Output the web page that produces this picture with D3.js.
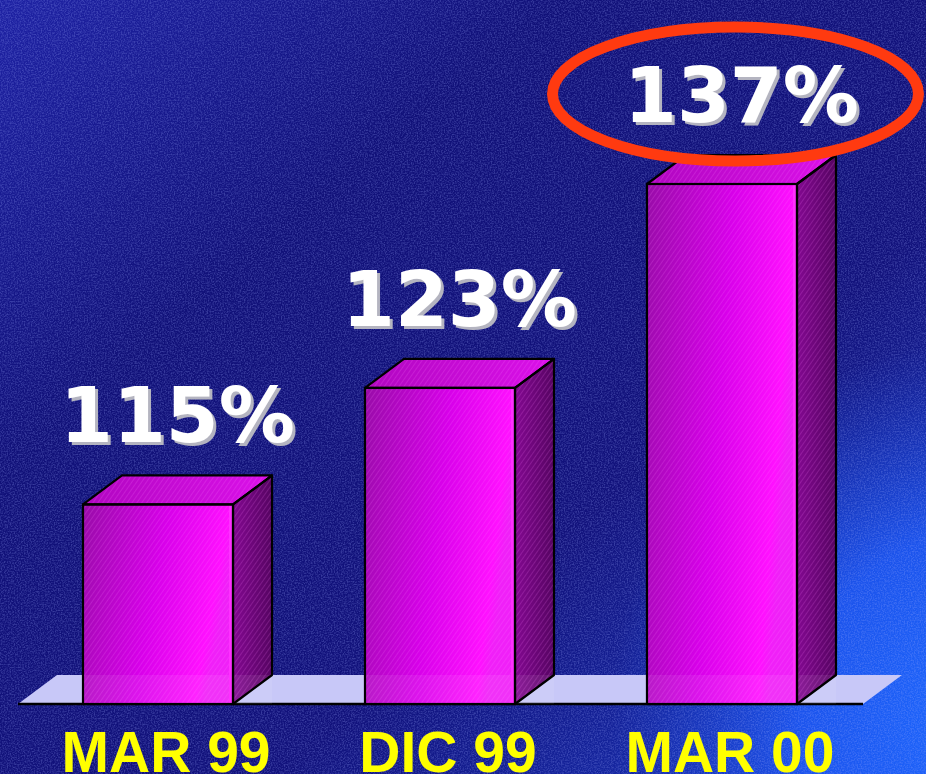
<!DOCTYPE html>
<html>
<head>
<meta charset="utf-8">
<script src="https://cdn.jsdelivr.net/npm/d3@7"></script>
<style>
  html, body { margin: 0; padding: 0; background: #14147e; }
  svg { display: block; }
</style>
</head>
<body>
<div id="chart"></div>
<script>
// data
const categories = ['MAR 99', 'DIC 99', 'MAR 00'];
const values = [115, 123, 137];
const valueLabels = ['115%', '123%', '137%'];
const highlighted = 'MAR 00';

const width = 926, height = 774;
const baseY = 704;           // front edge of the floor
const depth = { dx: 39, dy: -29 };

const svg = d3.select('#chart').append('svg')
    .attr('width', width)
    .attr('height', height);

const defs = svg.append('defs');

// background: navy with a bright blue glow in the bottom right
const bgGrad = defs.append('linearGradient')
    .attr('id', 'bg').attr('x1', 0).attr('y1', 0).attr('x2', 1).attr('y2', 1);
bgGrad.append('stop').attr('offset', 0).attr('stop-color', '#1e22a4');
bgGrad.append('stop').attr('offset', 0.3).attr('stop-color', '#111179');
bgGrad.append('stop').attr('offset', 0.65).attr('stop-color', '#12127c');
bgGrad.append('stop').attr('offset', 1).attr('stop-color', '#1838c0');

const glow = defs.append('radialGradient')
    .attr('id', 'glow').attr('gradientUnits', 'userSpaceOnUse')
    .attr('cx', 990).attr('cy', 720).attr('r', 380);
glow.append('stop').attr('offset', 0).attr('stop-color', '#1e6aff').attr('stop-opacity', 1);
glow.append('stop').attr('offset', 0.5).attr('stop-color', '#1c58f4').attr('stop-opacity', 0.9);
glow.append('stop').attr('offset', 1).attr('stop-color', '#1a40d0').attr('stop-opacity', 0);

// speckle texture
const noise = defs.append('filter').attr('id', 'noise')
    .attr('x', 0).attr('y', 0).attr('width', '100%').attr('height', '100%');
noise.append('feTurbulence')
    .attr('type', 'fractalNoise').attr('baseFrequency', 0.7)
    .attr('numOctaves', 2).attr('seed', 7).attr('result', 't');
noise.append('feColorMatrix').attr('in', 't').attr('type', 'matrix')
    .attr('values', '0 0 0 0 0.35  0 0 0 0 0.42  0 0 0 0 1  0 0 0 -2.6 1.6');

// drop shadow for the value labels
const shadow = defs.append('filter').attr('id', 'shadow')
    .attr('x', '-10%').attr('y', '-10%').attr('width', '120%').attr('height', '130%');
shadow.append('feDropShadow')
    .attr('dx', 3).attr('dy', 3).attr('stdDeviation', 0)
    .attr('flood-color', '#b4b4c0').attr('flood-opacity', 1);

// face gradients
const frontGrad = defs.append('linearGradient').attr('id', 'front')
    .attr('x1', 0).attr('y1', 0).attr('x2', 1).attr('y2', 0.25);
frontGrad.append('stop').attr('offset', 0).attr('stop-color', '#980ca8');
frontGrad.append('stop').attr('offset', 0.55).attr('stop-color', '#d800ea');
frontGrad.append('stop').attr('offset', 0.93).attr('stop-color', '#ff10ff');
frontGrad.append('stop').attr('offset', 1).attr('stop-color', '#f020f8');

const sideGrad = defs.append('linearGradient').attr('id', 'side')
    .attr('x1', 0).attr('y1', 0).attr('x2', 1).attr('y2', 0);
sideGrad.append('stop').attr('offset', 0).attr('stop-color', '#820890');
sideGrad.append('stop').attr('offset', 1).attr('stop-color', '#560462');

const topGrad = defs.append('linearGradient').attr('id', 'topface')
    .attr('x1', 0).attr('y1', 0).attr('x2', 1).attr('y2', 0);
topGrad.append('stop').attr('offset', 0).attr('stop-color', '#b006c0');
topGrad.append('stop').attr('offset', 1).attr('stop-color', '#dc10ea');

// fine diagonal hatching on the faces
const hatch = defs.append('pattern').attr('id', 'hatch')
    .attr('patternUnits', 'userSpaceOnUse')
    .attr('width', 4).attr('height', 4)
    .attr('patternTransform', 'rotate(35)');
hatch.append('rect').attr('width', 1).attr('height', 4)
    .attr('fill', '#ff80ff').attr('opacity', 0.18);

svg.append('rect').attr('width', width).attr('height', height).attr('fill', 'url(#bg)');
svg.append('rect').attr('width', width).attr('height', height).attr('fill', 'url(#glow)');
svg.append('rect').attr('width', width).attr('height', height)
    .attr('filter', 'url(#noise)').attr('opacity', 0.26);

// scales
const x = d3.scaleBand()
    .domain(categories)
    .range([83, 797])
    .paddingInner(0.468)
    .paddingOuter(0);

const y = d3.scaleLinear()
    .domain([101.3, 137])
    .range([baseY, 184]);

const bw = x.bandwidth();

// floor
const floorLeft = x.range()[0] - 65;
const floorRight = x.range()[1] + 66;
svg.append('path')
    .attr('d', d3.line()([
        [floorLeft, baseY], [floorRight, baseY],
        [floorRight + depth.dx, baseY + depth.dy], [floorLeft + depth.dx, baseY + depth.dy]
    ]) + 'Z')
    .attr('fill', '#c8c8f8');
svg.append('line')
    .attr('x1', floorLeft).attr('x2', floorRight)
    .attr('y1', baseY).attr('y2', baseY)
    .attr('stroke', '#000').attr('stroke-width', 2.5);

const data = categories.map((c, i) => ({ cat: c, value: values[i], label: valueLabels[i] }));

const bars = svg.append('g').selectAll('g')
    .data(data)
    .enter().append('g');

const sidePath = d => {
    const x1 = x(d.cat) + bw, yt = y(d.value);
    return d3.line()([[x1, yt], [x1 + depth.dx, yt + depth.dy],
        [x1 + depth.dx, baseY + depth.dy], [x1, baseY]]) + 'Z';
};
const topPath = d => {
    const x0 = x(d.cat), yt = y(d.value);
    return d3.line()([[x0, yt], [x0 + depth.dx, yt + depth.dy],
        [x0 + bw + depth.dx, yt + depth.dy], [x0 + bw, yt]]) + 'Z';
};

['url(#side)', 'url(#hatch)'].forEach(f => {
    bars.append('path').attr('d', sidePath).attr('fill', f);
});
['url(#topface)', 'url(#hatch)'].forEach(f => {
    bars.append('path').attr('d', topPath).attr('fill', f);
});
['url(#front)', 'url(#hatch)'].forEach(f => {
    bars.append('rect')
        .attr('x', d => x(d.cat))
        .attr('y', d => y(d.value))
        .attr('width', bw)
        .attr('height', d => baseY - y(d.value))
        .attr('fill', f);
});

// floor showing through the lower part of the bars
bars.append('rect')
    .attr('x', d => x(d.cat))
    .attr('y', baseY + depth.dy)
    .attr('width', bw + depth.dx)
    .attr('height', -depth.dy)
    .attr('fill', '#ffffff')
    .attr('opacity', 0.08);

// highlight strip by the front right edge
bars.append('rect')
    .attr('x', d => x(d.cat) + bw - 4)
    .attr('y', d => y(d.value))
    .attr('width', 3)
    .attr('height', d => baseY - y(d.value))
    .attr('fill', '#ff30ff');

// outlines
bars.append('path').attr('d', sidePath)
    .attr('fill', 'none').attr('stroke', '#000').attr('stroke-width', 2.2)
    .attr('stroke-linejoin', 'round');
bars.append('path').attr('d', topPath)
    .attr('fill', 'none').attr('stroke', '#000').attr('stroke-width', 2.2)
    .attr('stroke-linejoin', 'round');
bars.append('rect')
    .attr('x', d => x(d.cat))
    .attr('y', d => y(d.value))
    .attr('width', bw)
    .attr('height', d => baseY - y(d.value))
    .attr('fill', 'none').attr('stroke', '#000').attr('stroke-width', 2.2);

// value labels with a grey drop shadow
const labelX = d => x(d.cat) + (bw + depth.dx) / 2;
const labelY = d => y(d.value) - 62;

svg.append('g').selectAll('text')
    .data(data)
    .enter().append('text')
    .attr('x', labelX)
    .attr('y', labelY)
    .attr('text-anchor', 'middle')
    .attr('filter', 'url(#shadow)')
    .style('font-family', '"DejaVu Sans", Verdana, sans-serif')
    .style('font-weight', 'bold')
    .style('font-size', '76px')
    .style('fill', '#ffffff')
    .text(d => d.label);

// red ring round the last value
const hi = data.find(d => d.cat === highlighted);
svg.append('ellipse')
    .attr('cx', labelX(hi) - 6)
    .attr('cy', labelY(hi) - 28)
    .attr('rx', 183)
    .attr('ry', 67)
    .attr('fill', 'none')
    .attr('stroke', '#ff3a10')
    .attr('stroke-width', 11);

// category labels
svg.append('g').selectAll('text')
    .data(categories)
    .enter().append('text')
    .attr('x', d => x(d) + bw / 2 + 8)
    .attr('y', 772)
    .attr('text-anchor', 'middle')
    .style('font-family', '"Liberation Sans", Arial, sans-serif')
    .style('font-weight', 'bold')
    .style('font-size', '57px')
    .style('fill', '#ffff00')
    .text(d => d);
</script>
</body>
</html>
